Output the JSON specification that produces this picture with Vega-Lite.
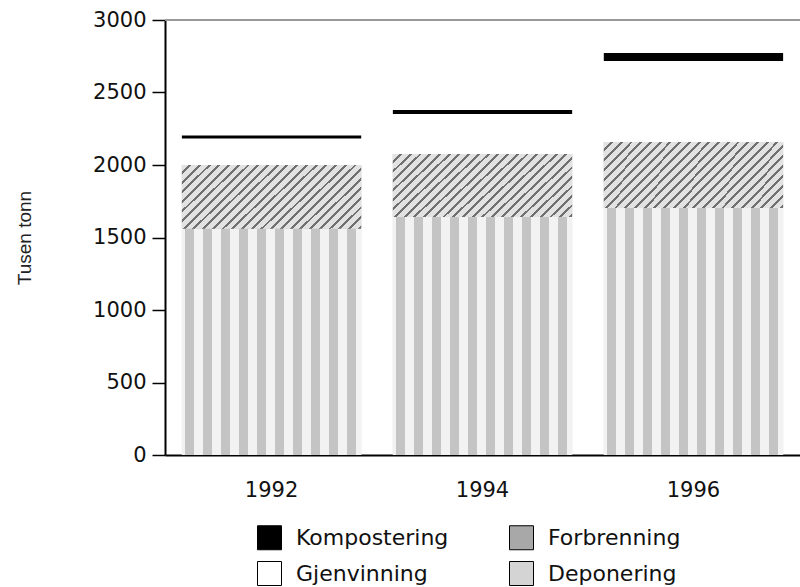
{
  "$schema": "https://vega.github.io/schema/vega-lite/v6.json",
  "width": 635,
  "height": 435,
  "autosize": {"type": "none"},
  "padding": {"left": 165, "top": 20, "right": 0, "bottom": 132},
  "background": "white",
  "config": {"view": {"stroke": null}, "font": "DejaVu Sans"},
  "data": {"values": [
    {"year": "1992", "type": "Deponering", "ord": 1, "value": 1560},
    {"year": "1992", "type": "Forbrenning", "ord": 2, "value": 440},
    {"year": "1992", "type": "Gjenvinning", "ord": 3, "value": 182},
    {"year": "1992", "type": "Kompostering", "ord": 4, "value": 22},
    {"year": "1994", "type": "Deponering", "ord": 1, "value": 1641},
    {"year": "1994", "type": "Forbrenning", "ord": 2, "value": 435},
    {"year": "1994", "type": "Gjenvinning", "ord": 3, "value": 276},
    {"year": "1994", "type": "Kompostering", "ord": 4, "value": 27},
    {"year": "1996", "type": "Deponering", "ord": 1, "value": 1703},
    {"year": "1996", "type": "Forbrenning", "ord": 2, "value": 456},
    {"year": "1996", "type": "Gjenvinning", "ord": 3, "value": 558},
    {"year": "1996", "type": "Kompostering", "ord": 4, "value": 55}
  ]},
  "layer": [
    {
      "mark": {"type": "rule", "color": "#999999", "strokeWidth": 2},
      "encoding": {"y": {"datum": 3000, "type": "quantitative"}}
    },
    {
      "mark": {"type": "bar"},
      "encoding": {
        "x": {"field": "year", "type": "nominal", "scale": {"paddingInner": 0.15, "paddingOuter": 0.08},
          "axis": {"title": null, "labelAngle": 0, "ticks": false, "domainColor": "#000", "domainWidth": 2, "labelFontSize": 21, "labelPadding": 24, "labelColor": "#111"}},
        "y": {"field": "value", "type": "quantitative", "stack": "zero", "scale": {"domain": [0, 3000], "nice": false},
          "axis": {"title": "Tusen tonn", "format": "d", "values": [0, 500, 1000, 1500, 2000, 2500, 3000], "grid": false, "domainColor": "#000", "domainWidth": 2, "tickColor": "#000", "tickSize": 13, "tickWidth": 1.5, "labelFontSize": 21, "labelColor": "#111", "labelPadding": 6, "titleFont": "Liberation Sans", "titleFontSize": 19, "titleFontWeight": "normal", "titleColor": "#222", "titlePadding": 58}},
        "order": {"field": "ord", "type": "quantitative"},
        "fill": {"field": "type", "type": "nominal",
          "scale": {"domain": ["Kompostering", "Gjenvinning", "Forbrenning", "Deponering"], "range": ["#000000", "#ffffff", "#a8a8a8", "#d4d4d4"]},
          "legend": {"title": null, "orient": "none", "legendX": 92, "legendY": 505, "columns": 2, "symbolType": "square", "symbolSize": 576, "symbolStrokeColor": "#000", "symbolStrokeWidth": 1, "labelFontSize": 22, "labelFont": "DejaVu Sans", "labelColor": "#111", "labelOffset": 14, "labelLimit": 400, "rowPadding": 7, "columnPadding": 58}}
      }
    },
    {
      "mark": {"type": "bar"},
      "encoding": {
        "x": {"field": "year", "type": "nominal"},
        "y": {"field": "value", "type": "quantitative", "stack": "zero"},
        "order": {"field": "ord", "type": "quantitative"},
        "detail": {"field": "type", "type": "nominal"},
        "fill": {
          "condition": [
            {"test": "datum.type === 'Forbrenning'", "value": {"gradient": "linear", "x1": 0, "y1": 0, "x2": 1.2, "y2": 0.433, "stops": [
              {"offset": 0, "color": "#e2e2e2"},
              {"offset": 0.028, "color": "#e2e2e2"}, {"offset": 0.028, "color": "#707070"}, {"offset": 0.04, "color": "#707070"}, {"offset": 0.04, "color": "#e2e2e2"},
              {"offset": 0.068, "color": "#e2e2e2"}, {"offset": 0.068, "color": "#707070"}, {"offset": 0.08, "color": "#707070"}, {"offset": 0.08, "color": "#e2e2e2"},
              {"offset": 0.108, "color": "#e2e2e2"}, {"offset": 0.108, "color": "#707070"}, {"offset": 0.12, "color": "#707070"}, {"offset": 0.12, "color": "#e2e2e2"},
              {"offset": 0.148, "color": "#e2e2e2"}, {"offset": 0.148, "color": "#707070"}, {"offset": 0.16, "color": "#707070"}, {"offset": 0.16, "color": "#e2e2e2"},
              {"offset": 0.188, "color": "#e2e2e2"}, {"offset": 0.188, "color": "#707070"}, {"offset": 0.2, "color": "#707070"}, {"offset": 0.2, "color": "#e2e2e2"},
              {"offset": 0.228, "color": "#e2e2e2"}, {"offset": 0.228, "color": "#707070"}, {"offset": 0.24, "color": "#707070"}, {"offset": 0.24, "color": "#e2e2e2"},
              {"offset": 0.268, "color": "#e2e2e2"}, {"offset": 0.268, "color": "#707070"}, {"offset": 0.28, "color": "#707070"}, {"offset": 0.28, "color": "#e2e2e2"},
              {"offset": 0.308, "color": "#e2e2e2"}, {"offset": 0.308, "color": "#707070"}, {"offset": 0.32, "color": "#707070"}, {"offset": 0.32, "color": "#e2e2e2"},
              {"offset": 0.348, "color": "#e2e2e2"}, {"offset": 0.348, "color": "#707070"}, {"offset": 0.36, "color": "#707070"}, {"offset": 0.36, "color": "#e2e2e2"},
              {"offset": 0.388, "color": "#e2e2e2"}, {"offset": 0.388, "color": "#707070"}, {"offset": 0.4, "color": "#707070"}, {"offset": 0.4, "color": "#e2e2e2"},
              {"offset": 0.428, "color": "#e2e2e2"}, {"offset": 0.428, "color": "#707070"}, {"offset": 0.44, "color": "#707070"}, {"offset": 0.44, "color": "#e2e2e2"},
              {"offset": 0.468, "color": "#e2e2e2"}, {"offset": 0.468, "color": "#707070"}, {"offset": 0.48, "color": "#707070"}, {"offset": 0.48, "color": "#e2e2e2"},
              {"offset": 0.508, "color": "#e2e2e2"}, {"offset": 0.508, "color": "#707070"}, {"offset": 0.52, "color": "#707070"}, {"offset": 0.52, "color": "#e2e2e2"},
              {"offset": 0.548, "color": "#e2e2e2"}, {"offset": 0.548, "color": "#707070"}, {"offset": 0.56, "color": "#707070"}, {"offset": 0.56, "color": "#e2e2e2"},
              {"offset": 0.588, "color": "#e2e2e2"}, {"offset": 0.588, "color": "#707070"}, {"offset": 0.6, "color": "#707070"}, {"offset": 0.6, "color": "#e2e2e2"},
              {"offset": 0.628, "color": "#e2e2e2"}, {"offset": 0.628, "color": "#707070"}, {"offset": 0.64, "color": "#707070"}, {"offset": 0.64, "color": "#e2e2e2"},
              {"offset": 0.668, "color": "#e2e2e2"}, {"offset": 0.668, "color": "#707070"}, {"offset": 0.68, "color": "#707070"}, {"offset": 0.68, "color": "#e2e2e2"},
              {"offset": 0.708, "color": "#e2e2e2"}, {"offset": 0.708, "color": "#707070"}, {"offset": 0.72, "color": "#707070"}, {"offset": 0.72, "color": "#e2e2e2"},
              {"offset": 0.748, "color": "#e2e2e2"}, {"offset": 0.748, "color": "#707070"}, {"offset": 0.76, "color": "#707070"}, {"offset": 0.76, "color": "#e2e2e2"},
              {"offset": 0.788, "color": "#e2e2e2"}, {"offset": 0.788, "color": "#707070"}, {"offset": 0.8, "color": "#707070"}, {"offset": 0.8, "color": "#e2e2e2"},
              {"offset": 0.828, "color": "#e2e2e2"}, {"offset": 0.828, "color": "#707070"}, {"offset": 0.84, "color": "#707070"}, {"offset": 0.84, "color": "#e2e2e2"},
              {"offset": 0.868, "color": "#e2e2e2"}, {"offset": 0.868, "color": "#707070"}, {"offset": 0.88, "color": "#707070"}, {"offset": 0.88, "color": "#e2e2e2"},
              {"offset": 0.908, "color": "#e2e2e2"}, {"offset": 0.908, "color": "#707070"}, {"offset": 0.92, "color": "#707070"}, {"offset": 0.92, "color": "#e2e2e2"},
              {"offset": 0.948, "color": "#e2e2e2"}, {"offset": 0.948, "color": "#707070"}, {"offset": 0.96, "color": "#707070"}, {"offset": 0.96, "color": "#e2e2e2"},
              {"offset": 0.988, "color": "#e2e2e2"}, {"offset": 0.988, "color": "#707070"}, {"offset": 1, "color": "#707070"}, {"offset": 1, "color": "#e2e2e2"}
            ]}},
            {"test": "datum.type === 'Deponering'", "value": {"gradient": "linear", "x1": 0, "y1": 0, "x2": 1, "y2": 0, "stops": [
              {"offset": 0, "color": "#f2f2f2"},
              {"offset": 0.02, "color": "#f2f2f2"}, {"offset": 0.02, "color": "#c4c4c4"}, {"offset": 0.07, "color": "#c4c4c4"}, {"offset": 0.07, "color": "#f2f2f2"},
              {"offset": 0.12, "color": "#f2f2f2"}, {"offset": 0.12, "color": "#c4c4c4"}, {"offset": 0.17, "color": "#c4c4c4"}, {"offset": 0.17, "color": "#f2f2f2"},
              {"offset": 0.22, "color": "#f2f2f2"}, {"offset": 0.22, "color": "#c4c4c4"}, {"offset": 0.27, "color": "#c4c4c4"}, {"offset": 0.27, "color": "#f2f2f2"},
              {"offset": 0.32, "color": "#f2f2f2"}, {"offset": 0.32, "color": "#c4c4c4"}, {"offset": 0.37, "color": "#c4c4c4"}, {"offset": 0.37, "color": "#f2f2f2"},
              {"offset": 0.42, "color": "#f2f2f2"}, {"offset": 0.42, "color": "#c4c4c4"}, {"offset": 0.47, "color": "#c4c4c4"}, {"offset": 0.47, "color": "#f2f2f2"},
              {"offset": 0.52, "color": "#f2f2f2"}, {"offset": 0.52, "color": "#c4c4c4"}, {"offset": 0.57, "color": "#c4c4c4"}, {"offset": 0.57, "color": "#f2f2f2"},
              {"offset": 0.62, "color": "#f2f2f2"}, {"offset": 0.62, "color": "#c4c4c4"}, {"offset": 0.67, "color": "#c4c4c4"}, {"offset": 0.67, "color": "#f2f2f2"},
              {"offset": 0.72, "color": "#f2f2f2"}, {"offset": 0.72, "color": "#c4c4c4"}, {"offset": 0.77, "color": "#c4c4c4"}, {"offset": 0.77, "color": "#f2f2f2"},
              {"offset": 0.82, "color": "#f2f2f2"}, {"offset": 0.82, "color": "#c4c4c4"}, {"offset": 0.87, "color": "#c4c4c4"}, {"offset": 0.87, "color": "#f2f2f2"},
              {"offset": 0.92, "color": "#f2f2f2"}, {"offset": 0.92, "color": "#c4c4c4"}, {"offset": 0.97, "color": "#c4c4c4"}, {"offset": 0.97, "color": "#f2f2f2"},
              {"offset": 1, "color": "#f2f2f2"}
            ]}}
          ],
          "value": "transparent"
        }
      }
    }
  ]
}
